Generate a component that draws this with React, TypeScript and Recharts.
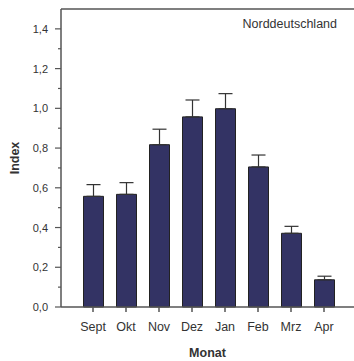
import { Bar, BarChart, ErrorBar, Label, ReferenceLine, XAxis, YAxis } from "recharts";

const months = ["Sept", "Okt", "Nov", "Dez", "Jan", "Feb", "Mrz", "Apr"];
const index = [0.557, 0.567, 0.817, 0.957, 0.998, 0.705, 0.371, 0.137];
const upperError = [0.059, 0.059, 0.078, 0.085, 0.076, 0.06, 0.035, 0.018];
const yTicks = [0, 0.1, 0.2, 0.3, 0.4, 0.5, 0.6, 0.7, 0.8, 0.9, 1.0, 1.1, 1.2, 1.3, 1.4, 1.5];
const regionLabel = "Norddeutschland";

const data = months.map((m, i) => ({ month: m, index: index[i], err: [0, upperError[i]] }));

const font = "'Liberation Sans', Arial, sans-serif";
const axisColor = "#555";
const textColor = "#333";

// major ticks every 0,2 get a label and a longer mark
function YTick(props: any) {
  const { x, y, payload } = props;
  const v = payload.value;
  if (v > 1.45) return null;
  const major = Math.round(v * 10) % 2 === 0;
  return (
    <g>
      <line x1={x} x2={x - (major ? 6 : 3)} y1={y} y2={y} stroke={axisColor} strokeWidth={1.2} />
      {major && (
        <text x={x - 13} y={y} dy={4} textAnchor="end" fontSize={11} fill={textColor} fontFamily={font}>
          {v.toFixed(1).replace(".", ",")}
        </text>
      )}
    </g>
  );
}

export default function App() {
  return (
    <div style={{ position: "fixed", top: 0, left: 0, width: 354, height: 361, background: "#fff" }}>
      <BarChart
        width={354}
        height={361}
        data={data}
        margin={{ top: 9, right: 0, left: 0, bottom: 0 }}
        barSize={20}
        style={{ overflow: "visible" }}
      >
        <ReferenceLine
          y={1.5}
          stroke={axisColor}
          strokeWidth={1.5}
          label={{
            content: (p: any) => (
              <text
                x={p.viewBox.x + p.viewBox.width - 17}
                y={p.viewBox.y + 19}
                textAnchor="end"
                fontSize={12.5}
                fill={textColor}
                fontFamily={font}
              >
                {regionLabel}
              </text>
            ),
          }}
        />
        <XAxis
          dataKey="month"
          height={54}
          padding={{ left: 15.5, right: 13.5 }}
          stroke={axisColor}
          strokeWidth={1.5}
          tickSize={5}
          tickMargin={10}
          tick={{ fontSize: 12.5, fill: textColor, fontFamily: font }}
        >
          <Label
            value="Monat"
            position="center"
            dy={19}
            style={{ fontSize: 12.5, fontWeight: "bold", fill: textColor, fontFamily: font }}
          />
        </XAxis>
        <YAxis
          width={61}
          domain={[0, 1.5]}
          ticks={yTicks}
          interval={0}
          stroke={axisColor}
          strokeWidth={1.5}
          tickSize={0}
          tickMargin={0}
          tickLine={false}
          tick={<YTick />}
        >
          <Label
            value="Index"
            angle={-90}
            position="center"
            dx={-16}
            style={{ fontSize: 12.5, fontWeight: "bold", fill: textColor, fontFamily: font, textAnchor: "middle" }}
          />
        </YAxis>
        <Bar dataKey="index" fill="#333364" stroke="#222" strokeWidth={1} isAnimationActive={false}>
          <ErrorBar dataKey="err" width={7} stroke="#333" strokeWidth={1.2} direction="y" />
        </Bar>
      </BarChart>
    </div>
  );
}
